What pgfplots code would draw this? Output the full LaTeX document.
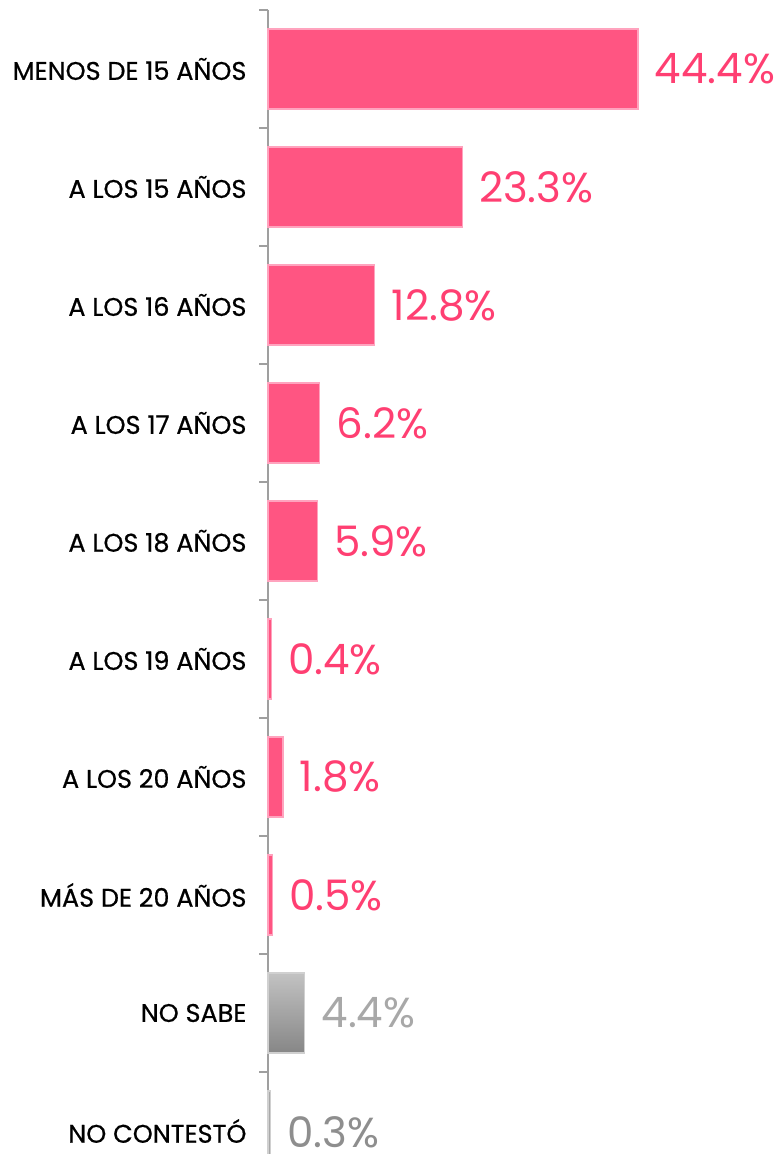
\documentclass[border=0pt]{standalone}
\usepackage{pgfplots}
\pgfplotsset{compat=1.18}
\usepackage{fontspec}
\setmainfont{Poppins}
\definecolor{barpink}{HTML}{FF5582}
\definecolor{edgepink}{HTML}{FFA3BE}
\definecolor{txtpink}{HTML}{FF3F72}
\definecolor{bargray}{HTML}{A8A8A8}
\definecolor{edgegray}{HTML}{D0D0D0}
\definecolor{txtgrayA}{HTML}{A8A8A8}
\definecolor{txtgrayB}{HTML}{8E8E8E}
\begin{document}
\begin{tikzpicture}
\begin{axis}[
  name=ax,
  xbar,
  scale only axis,
  width=510pt, height=1144pt,
  xmin=0, xmax=61.2,
  y dir=reverse,
  ymin=-0.5, ymax=9.195,
  axis x line=none,
  axis y line*=left,
  y axis line style={-, draw=gray!75, line width=1.3pt},
  ytick={0,...,9},
  yticklabels={MENOS DE 15 AÑOS, A LOS 15 AÑOS, A LOS 16 AÑOS, A LOS 17 AÑOS, A LOS 18 AÑOS, A LOS 19 AÑOS, A LOS 20 AÑOS, MÁS DE 20 AÑOS, NO SABE, NO CONTESTÓ},
  major tick length=0pt,
  minor ytick={-0.5,0.5,...,8.5},
  minor tick length=9pt,
  tick align=outside,
  tick style={draw=gray!75, line width=1.3pt},
  yticklabel style={font=\fontsize{25.5}{28}\selectfont\addfontfeatures{FakeBold=0.6}, text=black, xshift=-18pt},
  bar width=80pt,
  point meta=x,
  nodes near coords={\pgfmathprintnumber[fixed,fixed zerofill,precision=1,assume math mode=true]{\pgfplotspointmeta}\%},
  every node near coord/.append style={anchor=west, font=\fontsize{42}{48}\selectfont, xshift=13pt},
  clip=false,
]
\addplot[fill=barpink, draw=edgepink, line width=1.2pt, bar shift=0pt,
  every node near coord/.append style={text=txtpink}]
  coordinates {(44.4,0) (23.3,1) (12.8,2) (6.2,3) (5.9,4) (0.4,5) (1.8,6) (0.5,7)};
\addplot[top color=bargray!70!white, bottom color=bargray!80!black, draw=edgegray, line width=1.2pt, bar shift=0pt,
  every node near coord/.append style={text=txtgrayA}]
  coordinates {(4.4,8)};
\addplot[fill=bargray, draw=edgegray, line width=1.2pt, bar shift=0pt,
  every node near coord/.append style={text=txtgrayB, yshift=-1pt}]
  coordinates {(0.3,9)};
\end{axis}
\pgfresetboundingbox
\path[use as bounding box] ([xshift=-268pt]ax.south west) rectangle ([yshift=10pt]ax.north east);
\end{tikzpicture}
\end{document}
